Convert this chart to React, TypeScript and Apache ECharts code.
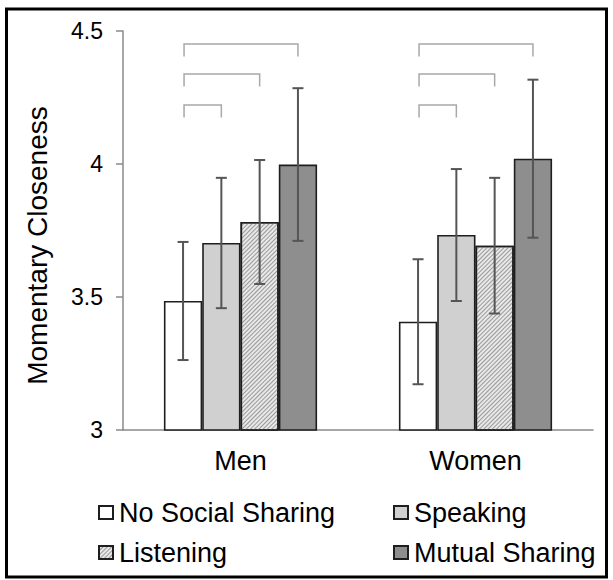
import React, { useEffect, useRef } from "react";
import * as echarts from "echarts";

const categories = ["Men", "Women"];
const seriesNames = ["No Social Sharing", "Speaking", "Listening", "Mutual Sharing"];
const noSharing = [3.485, 3.407];
const speaking = [3.703, 3.733];
const listening = [3.782, 3.693];
const mutualSharing = [3.998, 4.02];
const noSharingErr = [0.222, 0.235];
const speakingErr = [0.245, 0.248];
const listeningErr = [0.233, 0.255];
const mutualSharingErr = [0.287, 0.297];
// brackets: [categoryIndex, fromSeries, toSeries, level]
const brackets = [
  [0, 0, 3, 4.451],
  [0, 0, 2, 4.338],
  [0, 0, 1, 4.222],
  [1, 0, 3, 4.451],
  [1, 0, 2, 4.338],
  [1, 0, 1, 4.222],
];
const yTicks = { min: 3, max: 4.5, interval: 0.5 };

const FONT = "'Liberation Sans', Arial, sans-serif";
const BAR_W = 38.3;

export default function App() {
  const ref = useRef<HTMLDivElement>(null);
  useEffect(() => {
    if (!ref.current) return;
    const chart = echarts.init(ref.current, null, { renderer: "svg" });
    const means = [noSharing, speaking, listening, mutualSharing];
    const errs = [noSharingErr, speakingErr, listeningErr, mutualSharingErr];
    const errData: number[][] = [];
    for (let s = 0; s < 4; s++) {
      for (let c = 0; c < categories.length; c++) {
        errData.push([c, s, means[s][c], errs[s][c]]);
      }
    }
    const colors = ["#ffffff", "#d0d0d0", "#e8e8e8", "#8e8e8e"];
    const barSeries = seriesNames.map((name, i) => ({
      name,
      type: "bar",
      data: means[i],
      barWidth: BAR_W,
      barGap: "0%",
      itemStyle: {
        color: colors[i],
        borderColor: "#1e1e1e",
        borderWidth: 1.6,
        decal:
          i === 2
            ? {
                symbol: "rect",
                symbolSize: 1,
                color: "#999999",
                dashArrayX: [1, 0],
                dashArrayY: [1, 1.6],
                rotation: -Math.PI / 4,
              }
            : undefined,
      },
      z: 2,
    }));
    const legendCommon = {
      icon: "rect",
      itemWidth: 14,
      itemHeight: 13,
      padding: 0,
      selectedMode: false,
      textStyle: { fontSize: 27, color: "#000", fontFamily: FONT, padding: [0, 0, 0, 1] },
    };
    chart.setOption({
      animation: false,
      backgroundColor: "#fff",
      grid: { left: 123, right: 20, top: 31, bottom: 150 },
      legend: [
        { ...legendCommon, left: 98, top: 499, data: [seriesNames[0]] },
        { ...legendCommon, left: 393, top: 499, data: [seriesNames[1]] },
        { ...legendCommon, left: 98, top: 539, data: [seriesNames[2]] },
        { ...legendCommon, left: 393, top: 539, data: [seriesNames[3]] },
      ],
      xAxis: {
        type: "category",
        data: categories,
        axisTick: { show: false },
        axisLine: { lineStyle: { color: "#8a8a8a", width: 1.5 } },
        axisLabel: { fontSize: 27, color: "#000", fontFamily: FONT, margin: 17 },
      },
      yAxis: {
        type: "value",
        min: yTicks.min,
        max: yTicks.max,
        interval: yTicks.interval,
        splitLine: { show: false },
        axisLine: { show: true, lineStyle: { color: "#8a8a8a", width: 1.5 } },
        axisTick: { show: true, length: 7, lineStyle: { color: "#8a8a8a", width: 1.5 } },
        axisLabel: { fontSize: 23, color: "#000", fontFamily: FONT, margin: 20 },
      },
      graphic: [
        {
          type: "rect",
          shape: { x: 6.5, y: 9, width: 600, height: 568 },
          style: { fill: "none", stroke: "#000", lineWidth: 3 },
          z: 100,
        },
        {
          type: "text",
          x: 37,
          y: 245.5,
          rotation: Math.PI / 2,
          style: {
            text: "Momentary Closeness",
            fontSize: 28,
            fontFamily: FONT,
            fill: "#000",
            textAlign: "center",
            textVerticalAlign: "middle",
          },
        },
      ],
      series: [
        ...barSeries,
        {
          type: "custom",
          name: "errors",
          data: errData,
          encode: { x: 0, y: 2 },
          z: 5,
          silent: true,
          renderItem: (params: any, api: any) => {
            const c = api.value(0);
            const s = api.value(1);
            const m = api.value(2);
            const e = api.value(3);
            const top = api.coord([c, m + e]);
            const bot = api.coord([c, m - e]);
            const x = top[0] + (s - 1.5) * BAR_W;
            const cap = 5.5;
            const st = { stroke: "#555", lineWidth: 2, fill: "none" };
            return {
              type: "group",
              children: [
                { type: "line", shape: { x1: x, y1: top[1], x2: x, y2: bot[1] }, style: st },
                { type: "line", shape: { x1: x - cap, y1: top[1], x2: x + cap, y2: top[1] }, style: st },
                { type: "line", shape: { x1: x - cap, y1: bot[1], x2: x + cap, y2: bot[1] }, style: st },
              ],
            };
          },
        },
        {
          type: "custom",
          name: "brackets",
          data: brackets,
          encode: { x: 0, y: 3 },
          z: 5,
          silent: true,
          renderItem: (params: any, api: any) => {
            const c = api.value(0);
            const a = api.value(1);
            const b = api.value(2);
            const lvl = api.value(3);
            const p = api.coord([c, lvl]);
            const pd = api.coord([c, lvl - 0.047]);
            const x1 = p[0] + (a - 1.5) * BAR_W + 1;
            const x2 = p[0] + (b - 1.5) * BAR_W;
            return {
              type: "polyline",
              shape: {
                points: [
                  [x1, pd[1]],
                  [x1, p[1]],
                  [x2, p[1]],
                  [x2, pd[1]],
                ],
              },
              style: { stroke: "#a8a8a8", lineWidth: 1.5, fill: "none" },
            };
          },
        },
      ],
    });
    return () => chart.dispose();
  }, []);
  return (
    <div
      ref={ref}
      style={{ width: 613, height: 580, position: "absolute", left: 0, top: 0 }}
    />
  );
}
